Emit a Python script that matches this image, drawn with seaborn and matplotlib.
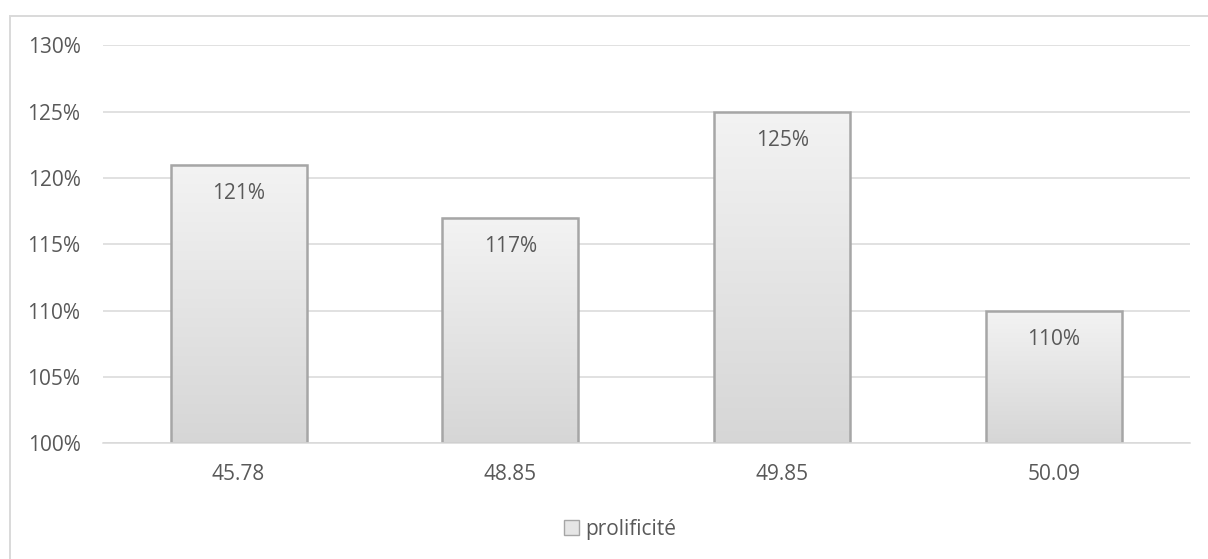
import numpy as np
import pandas as pd
import matplotlib
matplotlib.use('Agg')
import matplotlib.pyplot as plt
import seaborn as sns
from matplotlib.patches import Rectangle
from matplotlib.ticker import FuncFormatter

# data
categories = ['45.78', '48.85', '49.85', '50.09']
prolificite = [121, 117, 125, 110]
y_ticks = [100, 105, 110, 115, 120, 125, 130]

df = pd.DataFrame({'cat': categories, 'val': prolificite})

sns.set_style('white')
plt.rcParams['font.family'] = ['Open Sans', 'DejaVu Sans']

text_col = '#595959'
grid_col = '#d9d9d9'
base = 100

fig = plt.figure(figsize=(12.08, 5.59), dpi=100)
ax = fig.add_axes([0.085, 0.207, 0.9, 0.712])

sns.barplot(data=df, x='cat', y='val', color='#e6e6e6', width=0.5,
            edgecolor='#a6a6a6', linewidth=1.8, ax=ax, zorder=3)

ax.set_ylim(100, 130)
ax.set_xlim(-0.5, 3.5)
ax.set_yticks(y_ticks)
ax.yaxis.set_major_formatter(FuncFormatter(lambda v, p: f'{v:.0f}%'))
ax.grid(axis='y', color=grid_col, linewidth=1.1, zorder=0)
for s in ax.spines.values():
    s.set_visible(False)
ax.spines['bottom'].set_visible(True)
ax.spines['bottom'].set_color(grid_col)
ax.spines['bottom'].set_linewidth(1.1)
ax.spines['bottom'].set_zorder(6)
ax.tick_params(axis='both', length=0, labelsize=15, colors=text_col)
ax.tick_params(axis='x', pad=15)
ax.tick_params(axis='y', pad=16)
ax.set_xlabel('')
ax.set_ylabel('')

# bars start at the 100% baseline, filled with a vertical gradient
grad = np.linspace(0, 1, 256).reshape(-1, 1)
cmap = matplotlib.colors.LinearSegmentedColormap.from_list('g', ['#d6d6d6', '#f3f3f3'])
for bar in ax.patches:
    top = bar.get_y() + bar.get_height()
    bar.set_y(base)
    bar.set_height(top - base)
    x0, w = bar.get_x(), bar.get_width()
    im = ax.imshow(grad, extent=[x0, x0 + w, base, top], origin='lower',
                   aspect='auto', cmap=cmap, zorder=3.5)
    bar.set_facecolor('none')
    bar.set_zorder(4)
ax.set_xlim(-0.5, 3.5)
ax.set_ylim(100, 130)

for i, v in enumerate(prolificite):
    ax.text(i, v - 2.2, f'{v}%', ha='center', va='center', fontsize=15,
            color=text_col, zorder=5)

# legend
handle = Rectangle((0, 0), 1, 1, facecolor='#e6e6e6', edgecolor='#a6a6a6', linewidth=1)
fig.legend([handle], ['prolificité'], loc='center', bbox_to_anchor=(0.5135, 0.053),
           frameon=False, fontsize=15, labelcolor=text_col, handlelength=0.7,
           handleheight=0.7, handletextpad=0.3)

# chart outer border
fig.patches.append(Rectangle((0.0085, -0.05), 1.5, 1.022, transform=fig.transFigure,
                             fill=False, edgecolor='#d9d9d9', linewidth=1.4))

fig.savefig('out.png', dpi=100)
